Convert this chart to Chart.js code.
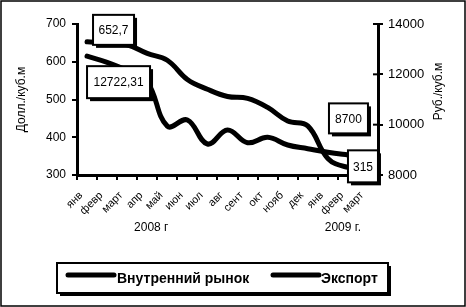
<!DOCTYPE html>
<html>
<head>
<meta charset="utf-8">
<script src="https://cdn.jsdelivr.net/npm/chart.js@4.4.1/dist/chart.umd.min.js"></script>
<style>
  html, body { margin: 0; padding: 0; background: #fff; }
  #wrap { width: 466px; height: 307px; }
</style>
</head>
<body>
<div id="wrap"><canvas id="c" width="466" height="307"></canvas></div>
<script>
// ---- data ----
const months = ['янв','февр','март','апр','май','июн','июл','авг','сент','окт','нояб','дек','янв','февр','март'];
const seriesNames = ['Внутренний рынок', 'Экспорт'];
const domesticRub = [12722.31, 12478, 12150, 11700, 9940, 10186, 9232, 9788, 9284, 9498, 9192, 9045, 8901, 8795, 8700];
const exportUsd   = [652.7, 650, 645, 622, 604, 553, 527, 508, 503, 479, 443, 430, 344, 320, 315];
const leftTicks  = [300, 400, 500, 600, 700];
const rightTicks = [8000, 10000, 12000, 14000];
const yearLabels = ['2008 г', '2009 г.'];
const leftTitle  = 'Долл./куб.м';
const rightTitle = 'Руб./куб.м';

// ---- layout helpers (not data) ----
const FONT = '"Liberation Sans", Arial, sans-serif';
const yearAt = [3.2, 12.75];           // category-index positions of year captions
const valueBoxes = [                   // which point each value box annotates, and its offset
  {ds: 1, i: 0,  dx: 6,   dy: -27, w: 41, h: 30},
  {ds: 0, i: 0,  dx: 0,   dy: 10,  w: 63, h: 32},
  {ds: 0, i: 14, dx: -39, dy: -54, w: 39, h: 30},
  {ds: 1, i: 14, dx: -20, dy: -19, w: 30, h: 32}
];
const fmt = v => String(v).replace('.', ',');

function shadowBox(ctx, x, y, w, h, off) {
  ctx.fillStyle = '#000';
  ctx.fillRect(x + off, y + off, w, h);
  ctx.fillStyle = '#fff';
  ctx.fillRect(x, y, w, h);
  ctx.strokeStyle = '#000';
  ctx.lineWidth = 2;
  ctx.strokeRect(x, y, w, h);
}

const decor = {
  id: 'decor',
  beforeDraw(chart) {
    const ctx = chart.ctx;
    ctx.save();
    ctx.fillStyle = '#fff';
    ctx.fillRect(0, 0, chart.width, chart.height);
    ctx.restore();
  },
  afterDatasetsDraw(chart) {
    const ctx = chart.ctx;
    const ca = chart.chartArea;
    const xs = chart.scales.x, yr = chart.scales.y1;
    ctx.save();
    // inner tick halves on right axis
    ctx.strokeStyle = '#000'; ctx.lineWidth = 2;
    rightTicks.forEach(t => {
      const py = yr.getPixelForValue(t);
      ctx.beginPath(); ctx.moveTo(ca.right - 5, py); ctx.lineTo(ca.right, py); ctx.stroke();
    });
    // value boxes
    ctx.font = '12px ' + FONT;
    ctx.textAlign = 'center'; ctx.textBaseline = 'middle';
    valueBoxes.forEach(b => {
      const pt = chart.getDatasetMeta(b.ds).data[b.i];
      const x = pt.x + b.dx, y = pt.y + b.dy;
      shadowBox(ctx, x, y, b.w, b.h, 3);
      ctx.fillStyle = '#000';
      ctx.fillText(fmt(chart.data.datasets[b.ds].data[b.i]), x + b.w / 2, y + b.h / 2 + 1);
    });
    // axis titles (both read bottom-to-top)
    ctx.font = '12px ' + FONT;
    ctx.fillStyle = '#000';
    ctx.save();
    ctx.translate(22, (ca.top + ca.bottom) / 2);
    ctx.rotate(-Math.PI / 2);
    ctx.fillText(leftTitle, 0, 0);
    ctx.restore();
    ctx.save();
    ctx.translate(439, (ca.top + ca.bottom) / 2 - 8);
    ctx.rotate(-Math.PI / 2);
    ctx.fillText(rightTitle, 0, 0);
    ctx.restore();
    // year captions
    ctx.font = '12px ' + FONT;
    yearLabels.forEach((t, k) => {
      ctx.fillText(t, xs.getPixelForValue(yearAt[k]), 228);
    });
    // legend
    const lx = 57, ly = 263, lw = 331, lh = 30;
    shadowBox(ctx, lx, ly, lw, lh, 3);
    ctx.font = 'bold 14px ' + FONT;
    ctx.textAlign = 'left';
    const items = [{x0: 68, x1: 114, tx: 117}, {x0: 273, x1: 319, tx: 321}];
    chart.data.datasets.forEach((ds, k) => {
      const it = items[k];
      ctx.strokeStyle = '#000'; ctx.lineWidth = 5; ctx.lineCap = 'round';
      ctx.beginPath(); ctx.moveTo(it.x0, ly + 12); ctx.lineTo(it.x1, ly + 12); ctx.stroke();
      ctx.fillStyle = '#000';
      ctx.fillText(ds.label, it.tx, ly + 16);
    });
    // outer frame
    ctx.lineWidth = 1.5; ctx.lineCap = 'butt';
    ctx.strokeRect(1, 1, chart.width - 2, chart.height - 2);
    ctx.restore();
  }
};

new Chart(document.getElementById('c'), {
  type: 'line',
  data: {
    labels: months,
    datasets: [
      { label: seriesNames[0], data: domesticRub, yAxisID: 'y1',
        borderColor: '#000', borderWidth: 5, pointRadius: 0, tension: 0.4, borderCapStyle: 'round', fill: false },
      { label: seriesNames[1], data: exportUsd, yAxisID: 'y',
        borderColor: '#000', borderWidth: 5, pointRadius: 0, tension: 0.4, borderCapStyle: 'round', fill: false }
    ]
  },
  options: {
    responsive: false,
    animation: false,
    layout: { padding: { top: 24, left: 0, right: 0, bottom: 0 } },
    plugins: { legend: { display: false }, tooltip: { enabled: false } },
    scales: {
      x: {
        type: 'category', offset: true,
        grid: { display: true, offset: true, drawOnChartArea: false, tickLength: 5, color: '#000', lineWidth: 2 },
        border: { display: true, color: '#000', width: 3 },
        ticks: { color: '#000', font: { family: FONT, size: 11 }, minRotation: 45, maxRotation: 45, padding: 9, labelOffset: -6, autoSkip: false },
        afterFit: s => { s.height = 132; }
      },
      y: {
        position: 'left', min: 300, max: 700,
        afterBuildTicks: s => { s.ticks = leftTicks.map(v => ({value: v})); },
        grid: { display: true, drawOnChartArea: false, tickLength: 5, color: '#000', lineWidth: 2 },
        border: { display: true, color: '#000', width: 3 },
        ticks: { color: '#000', font: { family: FONT, size: 12 }, padding: 6, callback: v => String(v) },
        afterFit: s => { s.width = 77; }
      },
      y1: {
        position: 'right', min: 8000, max: 14000,
        afterBuildTicks: s => { s.ticks = rightTicks.map(v => ({value: v})); },
        grid: { display: true, drawOnChartArea: false, tickLength: 5, color: '#000', lineWidth: 2 },
        border: { display: true, color: '#000', width: 3 },
        ticks: { color: '#000', font: { family: FONT, size: 13 }, padding: 5, callback: v => String(v) },
        afterFit: s => { s.width = 88; }
      }
    }
  },
  plugins: [decor]
});
</script>
</body>
</html>
